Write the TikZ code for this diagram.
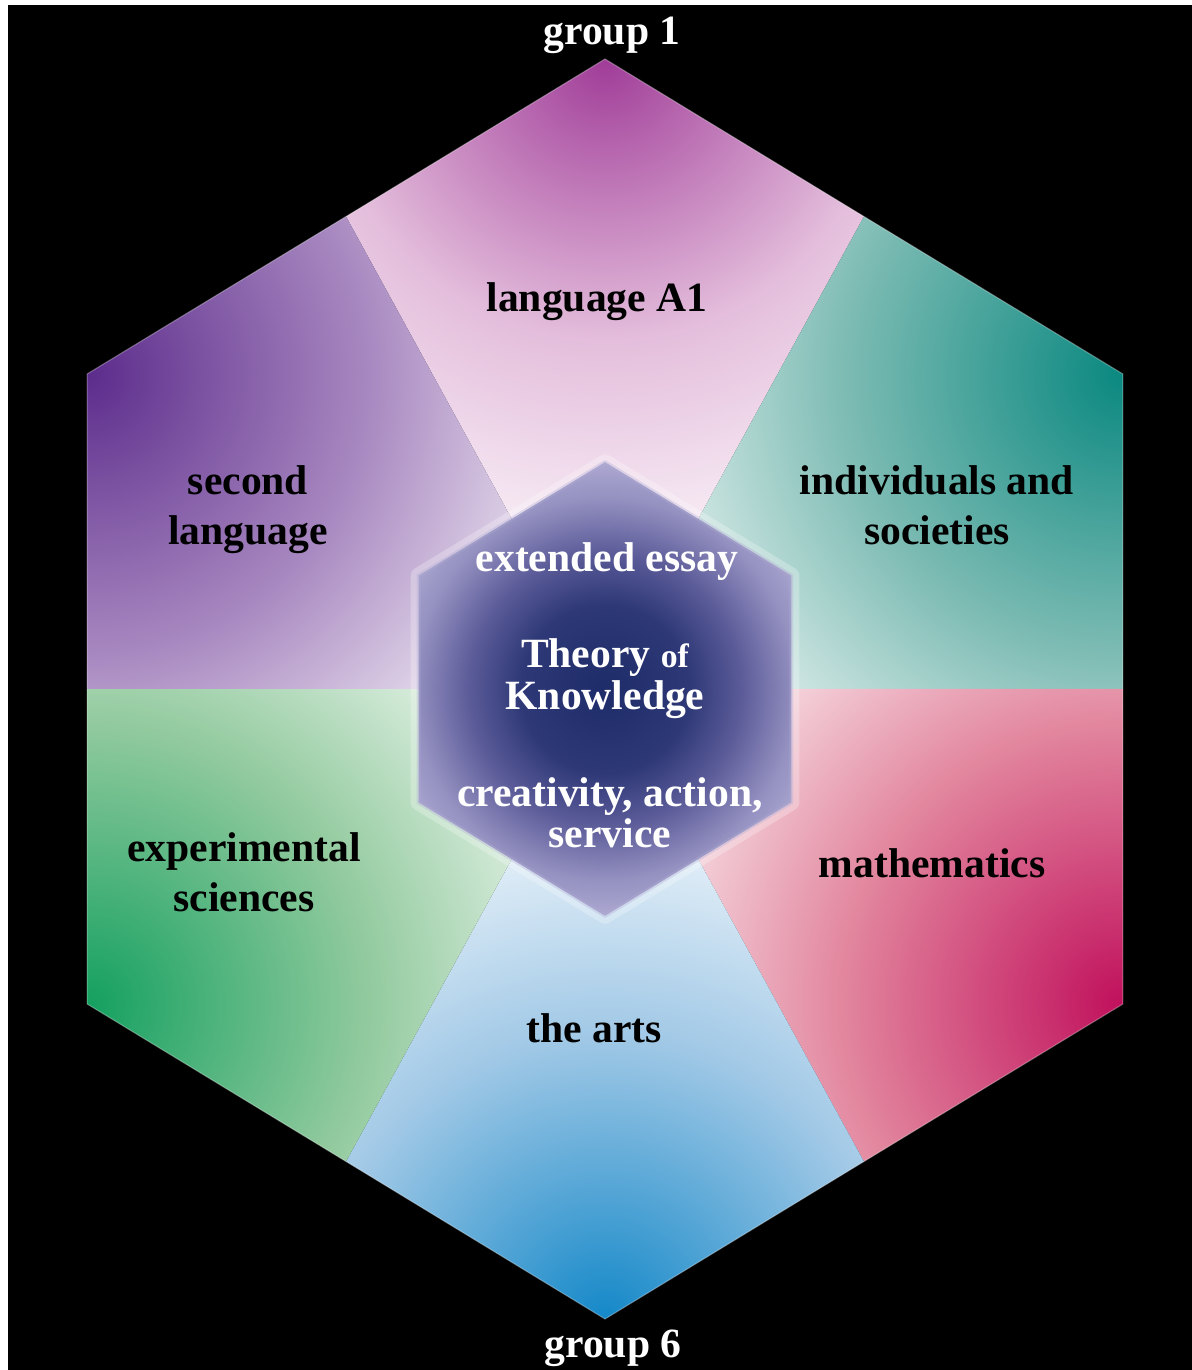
\documentclass[tikz,border=0pt]{standalone}
\usepackage{fontspec}
\setmainfont{Liberation Serif}
\usepackage{tikz}
\usetikzlibrary{calc}

\definecolor{grpAout}{HTML}{A03C98}
\definecolor{grpAmid}{HTML}{E4BEDC}
\definecolor{grpBout}{HTML}{0A8880}
\definecolor{grpBmid}{HTML}{7EBCB4}
\definecolor{grpCout}{HTML}{C0105C}
\definecolor{grpCmid}{HTML}{E2869E}
\definecolor{grpDout}{HTML}{1488C8}
\definecolor{grpDmid}{HTML}{A0C8E6}
\definecolor{grpEout}{HTML}{14A060}
\definecolor{grpEmid}{HTML}{92CA9E}
\definecolor{grpFout}{HTML}{5C2C8C}
\definecolor{grpFmid}{HTML}{A888C0}
\definecolor{tokcore}{HTML}{1E2C6A}
\definecolor{tokinner}{HTML}{2E3876}
\definecolor{tokmid}{HTML}{5A5A98}
\definecolor{tokedge}{HTML}{9490C0}
\definecolor{tokrim}{HTML}{B0ACD4}

\colorlet{secout}{black}
\colorlet{secmid}{white}
\pgfdeclareradialshading[secout,secmid]{sectorfade}{\pgfpoint{0bp}{0bp}}{color(0bp)=(secout); color(11bp)=(secmid); color(22bp)=(white); color(50bp)=(white)}
\pgfdeclareradialshading{tokfade}{\pgfpoint{0bp}{0bp}}{color(0bp)=(tokcore); color(9bp)=(tokinner); color(14.5bp)=(tokmid); color(20.5bp)=(tokedge); color(25bp)=(tokrim); color(50bp)=(tokrim)}

\tikzset{
  subject/.style={font=\fontsize{29.6}{35.5}\selectfont\bfseries, text=black, anchor=base, inner sep=0pt},
  core/.style={subject, text=white},
  grouplabel/.style={subject, text=white}
}

\begin{document}
\begin{tikzpicture}
\useasboundingbox (0,0) rectangle (29.8,34.25);
\fill[black] (0.2,0) rectangle (29.8,34.125);

\coordinate (o) at (15.125,17.025);
\foreach \k in {1,...,6}
  \coordinate (v\k) at ($(o)+({14.95*cos(150-60*\k)},{15.75*sin(150-60*\k)})$);
\foreach \k [evaluate=\k as \n using {int(mod(\k,6)+1)}] in {1,...,6}
  \coordinate (m\k) at ($(v\k)!0.5!(v\n)$);

% the six subject groups
\foreach \k/\cout/\cmid in {1/grpAout/grpAmid, 2/grpBout/grpBmid, 3/grpCout/grpCmid,
                            4/grpDout/grpDmid, 5/grpEout/grpEmid, 6/grpFout/grpFmid}{
  \pgfmathtruncatemacro{\p}{mod(\k+4,6)+1}
  \colorlet{secout}{\cout}
  \colorlet{secmid}{\cmid}
  \begin{scope}
    \clip (o) -- (m\p) -- (v\k) -- (m\k) -- cycle;
    \shade[shading=sectorfade] (v\k) circle (16);
  \end{scope}
}
\draw[white, opacity=0.3, line width=0.8pt] (v1) -- (v2) -- (v3) -- (v4) -- (v5) -- (v6) -- cycle;

% core in the middle
\foreach \k in {1,...,6}
  \coordinate (w\k) at ($(o)!0.36!(v\k)$);
\draw[white, opacity=0.25, line width=0.4cm, line join=round] (w1) -- (w2) -- (w3) -- (w4) -- (w5) -- (w6) -- cycle;
\begin{scope}
  \clip (w1) -- (w2) -- (w3) -- (w4) -- (w5) -- (w6) -- cycle;
  \shade[shading=tokfade] (o) circle (5.8);
\end{scope}
\draw[tokrim, opacity=0.35, line width=0.1cm, line join=round] (w1) -- (w2) -- (w3) -- (w4) -- (w5) -- (w6) -- cycle;

\node[grouplabel] (grp1) at (15.3,33.125) {group 1};
\node[grouplabel] (grp6) at (15.325,0.3) {group 6};

\node[subject] (langA) at (14.925,26.45) {language A1};
\node[subject] (langBa) at (6.2,21.875) {second};
\node[subject] (langBb) at (6.2,20.625) {language};
\node[subject] (socA) at (23.425,21.875) {individuals and};
\node[subject] (socB) at (23.425,20.625) {societies};
\node[subject] (sciA) at (6.1,12.7) {experimental};
\node[subject] (sciB) at (6.1,11.45) {sciences};
\node[subject] (maths) at (23.3,12.3) {mathematics};
\node[subject] (arts) at (14.85,8.175) {the arts};

\node[core] (essay) at (15.175,19.95) {extended essay};
\node[core] (tokA) at (15.125,17.55) {Theory {\fontsize{24}{28}\selectfont of}};
\node[core] (tokB) at (15.125,16.5) {Knowledge};
\node[core] (casA) at (15.25,14.075) {creativity, action,};
\node[core] (casB) at (15.25,13.05) {service};
\end{tikzpicture}
\end{document}
